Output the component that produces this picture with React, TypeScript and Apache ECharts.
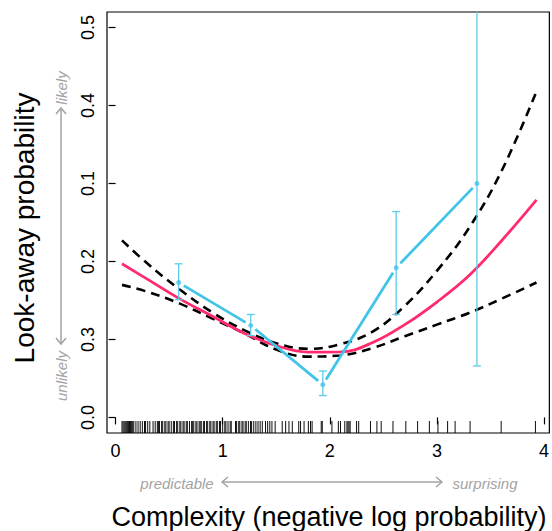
import React, { useEffect, useRef } from "react";
import * as echarts from "echarts";

const xTicks = [0, 1, 2, 3, 4];
const xTickLabels = ["0", "1", "2", "3", "4"];
const yTicks = [0, 0.1, 0.2, 0.3, 0.4, 0.5];
const yTickLabels = ["0.0", "0.3", "0.2", "0.1", "0.4", "0.5"];

const binX = [0.589, 1.262, 1.935, 2.62, 3.374];
const binMean = [0.173, 0.118, 0.042, 0.192, 0.3];
const binLow = [0.151, 0.105, 0.028, 0.132, 0.066];
const binHigh = [0.197, 0.132, 0.0595, 0.264, 0.6];

const curveX = [0.06, 0.3, 0.6, 0.9, 1.2, 1.5, 1.8, 2.1, 2.4, 2.7, 3.0, 3.3, 3.6, 3.93];
const fitY = [0.197, 0.177, 0.152, 0.13, 0.108, 0.092, 0.0838, 0.084, 0.096, 0.119, 0.148, 0.182, 0.226, 0.279];
const upperY = [0.227, 0.197, 0.164, 0.135, 0.112, 0.095, 0.088, 0.094, 0.11, 0.143, 0.188, 0.243, 0.315, 0.418];
const lowerY = [0.17, 0.161, 0.146, 0.127, 0.108, 0.087, 0.078, 0.0795, 0.089, 0.104, 0.119, 0.134, 0.152, 0.173];

const rugX = [
  0.06, 0.07, 0.08, 0.09, 0.1, 0.11, 0.12, 0.13, 0.14, 0.15, 0.16, 0.17, 0.19, 0.21, 0.23, 0.25, 0.27, 0.28, 0.3,
  0.32, 0.35, 0.37,
  0.39, 0.4, 0.41, 0.43, 0.44, 0.46, 0.47, 0.49, 0.5, 0.52, 0.54, 0.55, 0.57, 0.58, 0.6, 0.61, 0.63, 0.64, 0.66, 0.67, 0.69,
  0.71, 0.72, 0.73, 0.75, 0.76, 0.78, 0.79, 0.8, 0.82, 0.83, 0.85, 0.86, 0.88, 0.89, 0.91, 0.92, 0.94, 0.95, 0.97, 0.98,
  1.0, 1.02, 1.03, 1.05, 1.07, 1.08,
  1.12, 1.13, 1.15, 1.16, 1.18, 1.19, 1.21, 1.22, 1.24, 1.26, 1.27, 1.29, 1.31, 1.33, 1.35, 1.37,
  1.4, 1.42, 1.44, 1.46, 1.49,
  1.556, 1.588, 1.619, 1.65, 1.71, 1.727, 1.76, 1.8, 1.82, 1.835,
  1.92, 1.93, 2.02, 2.08, 2.1, 2.14, 2.16, 2.17, 2.18, 2.19, 2.25, 2.27, 2.38, 2.44, 2.48, 2.59, 2.71, 2.82, 2.93,
  3.01, 3.1, 3.17, 3.31, 3.6, 3.92,
];

const X_MIN = -0.08;
const X_MAX = 4.05;
const Y_MIN = -0.02;
const Y_MAX = 0.52;

const FONT = "'Liberation Sans', Arial, Helvetica, sans-serif";
const BLUE = "#41c4e7";
const BLUE_ERR = "#5ecbea";
const RED = "#ff2b6c";
const GRAY = "#a3a3a3";

export default function App() {
  const ref = useRef<HTMLDivElement>(null);

  useEffect(() => {
    if (!ref.current) return;
    const chart = echarts.init(ref.current, null, { renderer: "svg" });

    const lineData = (ys: number[]) => curveX.map((x, i) => [x, ys[i]]);
    const arrowStyle = { stroke: GRAY, lineWidth: 1.5, fill: null };

    const option: any = {
      animation: false,
      backgroundColor: "#fff",
      textStyle: { fontFamily: FONT },
      grid: {
        left: 107,
        right: 1,
        top: 12,
        bottom: 98,
        show: true,
        borderColor: "#000",
        borderWidth: 1.2,
        containLabel: false,
      },
      xAxis: {
        type: "value",
        min: X_MIN,
        max: X_MAX,
        splitLine: { show: false },
        axisLine: { show: false },
        axisTick: {
          show: true,
          customValues: xTicks,
          length: 7,
          lineStyle: { color: "#000", width: 1.2 },
        },
        axisLabel: {
          customValues: xTicks,
          formatter: (v: number) => {
            const i = xTicks.findIndex((t) => Math.abs(t - v) < 1e-9);
            return i >= 0 ? xTickLabels[i] : "";
          },
          margin: 9,
          fontSize: 18,
          color: "#000",
          fontFamily: FONT,
        },
      },
      yAxis: {
        type: "value",
        min: Y_MIN,
        max: Y_MAX,
        splitLine: { show: false },
        axisLine: { show: false },
        axisTick: {
          show: true,
          customValues: yTicks,
          length: 7,
          lineStyle: { color: "#000", width: 1.2 },
        },
        axisLabel: {
          customValues: yTicks,
          formatter: (v: number) => {
            const i = yTicks.findIndex((t) => Math.abs(t - v) < 1e-9);
            return i >= 0 ? yTickLabels[i] : "";
          },
          rotate: 90,
          margin: 10,
          fontSize: 18,
          color: "#000",
          fontFamily: FONT,
        },
      },
      series: [
        {
          type: "custom",
          name: "rug",
          data: rugX.map((x) => [x, Y_MIN]),
          encode: { x: 0, y: 1 },
          renderItem: (params: any, api: any) => {
            const p = api.coord([api.value(0), Y_MIN]);
            return {
              type: "line",
              shape: { x1: p[0], y1: p[1], x2: p[0], y2: p[1] - 12 },
              style: { stroke: "#000", lineWidth: 1, opacity: 0.95 },
            };
          },
        },
        {
          type: "line",
          name: "upper",
          data: lineData(upperY),
          smooth: 0.4,
          showSymbol: false,
          lineStyle: { color: "#000", width: 2.6, type: [9, 6] },
          z: 3,
        },
        {
          type: "line",
          name: "lower",
          data: lineData(lowerY),
          smooth: 0.4,
          showSymbol: false,
          lineStyle: { color: "#000", width: 2.6, type: [9, 6] },
          z: 3,
        },
        {
          type: "line",
          name: "fit",
          data: lineData(fitY),
          smooth: 0.4,
          showSymbol: false,
          lineStyle: { color: RED, width: 2.8 },
          z: 4,
        },
        {
          type: "custom",
          name: "errorbars",
          data: binX.map((x, i) => [x, binLow[i], binHigh[i], binMean[i]]),
          encode: { x: 0, y: [1, 2] },
          z: 5,
          renderItem: (params: any, api: any) => {
            const x = api.value(0);
            const lo = api.value(1);
            const hi = api.value(2);
            const pLo = api.coord([x, lo]);
            const clipped = hi > Y_MAX;
            const pHi = api.coord([x, clipped ? Y_MAX : hi]);
            const cap = 4;
            const style = { stroke: BLUE_ERR, lineWidth: 1.3 };
            const children: any[] = [
              { type: "line", shape: { x1: pLo[0], y1: pLo[1], x2: pHi[0], y2: pHi[1] }, style },
              { type: "line", shape: { x1: pLo[0] - cap, y1: pLo[1], x2: pLo[0] + cap, y2: pLo[1] }, style },
            ];
            if (!clipped) {
              children.push({
                type: "line",
                shape: { x1: pHi[0] - cap, y1: pHi[1], x2: pHi[0] + cap, y2: pHi[1] },
                style,
              });
            }
            return { type: "group", children };
          },
        },
        {
          type: "custom",
          name: "binline",
          data: binX.slice(0, -1).map((x, i) => [x, binMean[i], binX[i + 1], binMean[i + 1]]),
          encode: { x: [0, 2], y: [1, 3] },
          z: 6,
          renderItem: (params: any, api: any) => {
            const a = api.coord([api.value(0), api.value(1)]);
            const b = api.coord([api.value(2), api.value(3)]);
            const dx = b[0] - a[0];
            const dy = b[1] - a[1];
            const len = Math.sqrt(dx * dx + dy * dy);
            const g = 6;
            const ux = dx / len;
            const uy = dy / len;
            return {
              type: "line",
              shape: {
                x1: a[0] + ux * g,
                y1: a[1] + uy * g,
                x2: b[0] - ux * g,
                y2: b[1] - uy * g,
              },
              style: { stroke: BLUE, lineWidth: 2.8 },
            };
          },
        },
        {
          type: "scatter",
          name: "bins",
          data: binX.map((x, i) => [x, binMean[i]]),
          symbol: "circle",
          symbolSize: 5,
          itemStyle: { color: BLUE },
          z: 7,
        },
      ],
      graphic: [
        {
          type: "text",
          x: 24,
          y: 228,
          rotation: Math.PI / 2,
          style: {
            text: "Look-away probability",
            font: `28px ${FONT}`,
            fill: "#000",
            align: "center",
            verticalAlign: "middle",
          },
        },
        {
          type: "text",
          x: 329,
          y: 517,
          style: {
            text: "Complexity (negative log probability)",
            font: `27px ${FONT}`,
            fill: "#000",
            align: "center",
            verticalAlign: "middle",
          },
        },
        {
          type: "text",
          x: 61,
          y: 88,
          rotation: Math.PI / 2,
          style: {
            text: "likely",
            font: `italic 15px ${FONT}`,
            fill: GRAY,
            align: "center",
            verticalAlign: "middle",
          },
        },
        {
          type: "text",
          x: 61,
          y: 376,
          rotation: Math.PI / 2,
          style: {
            text: "unlikely",
            font: `italic 15px ${FONT}`,
            fill: GRAY,
            align: "center",
            verticalAlign: "middle",
          },
        },
        {
          type: "text",
          x: 177,
          y: 483,
          style: {
            text: "predictable",
            font: `italic 15px ${FONT}`,
            fill: GRAY,
            align: "center",
            verticalAlign: "middle",
          },
        },
        {
          type: "text",
          x: 485,
          y: 483,
          style: {
            text: "surprising",
            font: `italic 15px ${FONT}`,
            fill: GRAY,
            align: "center",
            verticalAlign: "middle",
          },
        },
        {
          type: "line",
          shape: { x1: 222, y1: 482, x2: 442, y2: 482 },
          style: { stroke: GRAY, lineWidth: 1.5 },
        },
        {
          type: "polyline",
          shape: { points: [[228, 477], [222, 482], [228, 487]] },
          style: arrowStyle,
        },
        {
          type: "polyline",
          shape: { points: [[436, 477], [442, 482], [436, 487]] },
          style: arrowStyle,
        },
        {
          type: "line",
          shape: { x1: 61, y1: 108, x2: 61, y2: 344 },
          style: { stroke: GRAY, lineWidth: 1.5 },
        },
        {
          type: "polyline",
          shape: { points: [[56, 114], [61, 108], [66, 114]] },
          style: arrowStyle,
        },
        {
          type: "polyline",
          shape: { points: [[56, 338], [61, 344], [66, 338]] },
          style: arrowStyle,
        },
      ],
    };

    chart.setOption(option);
    return () => {
      chart.dispose();
    };
  }, []);

  return (
    <div
      ref={ref}
      style={{ position: "fixed", left: 0, top: 0, width: 552, height: 531, background: "#fff" }}
    />
  );
}
